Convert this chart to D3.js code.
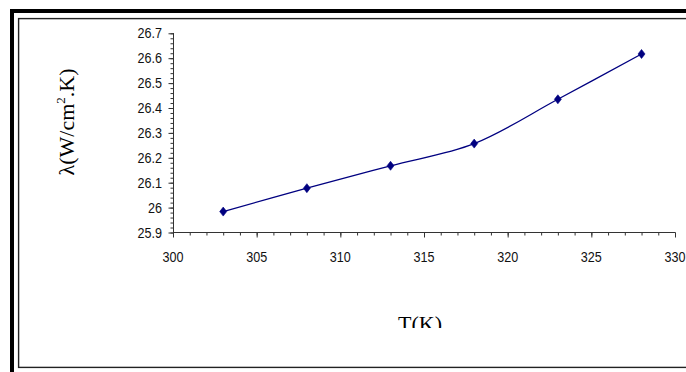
<!DOCTYPE html>
<html>
<head>
<meta charset="utf-8">
<script src="https://cdn.jsdelivr.net/npm/d3@7/dist/d3.min.js"></script>
<style>
  html, body { margin: 0; padding: 0; background: #fff; }
  svg { display: block; }
</style>
</head>
<body>
<script>
// Thermal conductivity vs temperature
const temperatures = [303, 308, 313, 318, 323, 328];
const conductivity = [25.984, 26.078, 26.168, 26.257, 26.435, 26.617];
const xTickValues = [300, 305, 310, 315, 320, 325, 330];
const xTickLabels = ["300", "305", "310", "315", "320", "325", "330"];
const yTickValues = [25.9, 26.0, 26.1, 26.2, 26.3, 26.4, 26.5, 26.6, 26.7];
const yTickLabels = ["25.9", "26", "26.1", "26.2", "26.3", "26.4", "26.5", "26.6", "26.7"];

const W = 686, H = 372;
const svg = d3.select("body").append("svg").attr("width", W).attr("height", H);

// Double frame around the chart
svg.append("rect").attr("x", 12).attr("y", 11).attr("width", 800).attr("height", 500)
  .attr("fill", "none").attr("stroke", "#000").attr("stroke-width", 4);
svg.append("rect").attr("x", 18.6).attr("y", 18.6).attr("width", 800).attr("height", 348.8)
  .attr("fill", "none").attr("stroke", "#222").attr("stroke-width", 1.4);

const x = d3.scaleLinear().domain([300, 330]).range([173, 675]);
const y = d3.scaleLinear().domain([25.9, 26.7]).range([232.5, 33.3]);

// Y axis: minor ticks every 0.02, major every 0.1
const gy = svg.append("g").attr("transform", "translate(173.5,0)");
gy.call(d3.axisLeft(y).tickValues(d3.range(0, 41).map(i => 25.9 + i * 0.02))
  .tickSize(3).tickFormat(""));
gy.call(g => g.append("g").call(d3.axisLeft(y).tickValues(yTickValues).tickSize(5).tickFormat("")));
gy.selectAll("path, line").attr("stroke", "#333").attr("stroke-width", 1);
gy.selectAll(".domain").attr("d", `M0,${y(26.7)}V${y(25.9)}`);

// X axis: minor ticks every 1, major every 5
const gx = svg.append("g").attr("transform", `translate(0,${y(25.9)})`);
gx.call(d3.axisBottom(x).tickValues(d3.range(300, 331)).tickSize(3).tickFormat(""));
gx.call(g => g.append("g").call(d3.axisBottom(x).tickValues(xTickValues).tickSize(5).tickFormat("")));
gx.selectAll("path, line").attr("stroke", "#333").attr("stroke-width", 1);
gx.selectAll(".domain").attr("d", `M${x(300)},0H${x(330)}`);

// Tick labels
const tickFont = "'Liberation Sans', Arial, sans-serif";
svg.append("g").selectAll("text").data(yTickValues).join("text")
  .attr("transform", d => `translate(162,${y(d) + 5}) scale(1,1.15)`)
  .attr("text-anchor", "end")
  .attr("font-family", tickFont).attr("font-size", 12.6).attr("fill", "#111")
  .text((d, i) => yTickLabels[i]);
svg.append("g").selectAll("text").data(xTickValues).join("text")
  .attr("transform", d => `translate(${x(d)},262) scale(1,1.15)`)
  .attr("text-anchor", "middle")
  .attr("font-family", tickFont).attr("font-size", 12.6).attr("fill", "#111")
  .text((d, i) => xTickLabels[i]);

// Axis titles
const serif = "'Liberation Serif', 'Times New Roman', serif";
const yt = svg.append("text")
  .attr("transform", "translate(74,122) rotate(-90)")
  .attr("text-anchor", "middle")
  .attr("font-family", serif).attr("font-size", 22).attr("fill", "#000");
yt.append("tspan").text("λ(W/cm");
yt.append("tspan").attr("font-size", 13).attr("dy", -9).text("2");
yt.append("tspan").attr("dy", 9).text(".K)");

svg.append("clipPath").attr("id", "xtclip")
  .append("rect").attr("x", 300).attr("y", 300).attr("width", 240).attr("height", 28);
svg.append("text")
  .attr("clip-path", "url(#xtclip)")
  .attr("x", 420).attr("y", 331)
  .attr("text-anchor", "middle")
  .attr("font-family", serif).attr("font-size", 22).attr("fill", "#000")
  .text("T(K)");

// Smoothed series line
const pts = temperatures.map((t, i) => [t, conductivity[i]]);
svg.append("path").datum(pts)
  .attr("fill", "none").attr("stroke", "#000080").attr("stroke-width", 1.3)
  .attr("d", d3.line().x(d => x(d[0])).y(d => y(d[1])).curve(d3.curveCatmullRom.alpha(0.5)));

// Diamond markers
svg.append("g").selectAll("path").data(pts).join("path")
  .attr("transform", d => `translate(${x(d[0])},${y(d[1])})`)
  .attr("d", "M0,-4.5L3.5,0L0,4.5L-3.5,0Z")
  .attr("fill", "#000080").attr("stroke", "#000080").attr("stroke-width", 0.6);
</script>
</body>
</html>
